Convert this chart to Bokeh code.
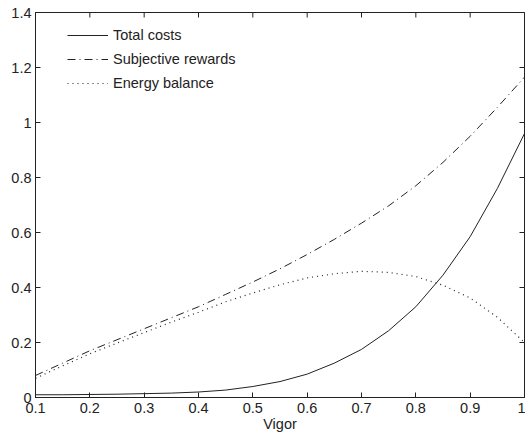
import math
from bokeh.plotting import figure
from bokeh.models import FixedTicker, Range1d, Legend, LegendItem
from bokeh.embed import file_html
from bokeh.resources import INLINE

vigor = [0.10, 0.15, 0.20, 0.25, 0.30, 0.35, 0.40, 0.45, 0.50, 0.55,
         0.60, 0.65, 0.70, 0.75, 0.80, 0.85, 0.90, 0.95, 1.00]
total_costs = [0.010, 0.010, 0.011, 0.012, 0.014, 0.016, 0.020, 0.027, 0.040, 0.058,
               0.085, 0.125, 0.175, 0.243, 0.330, 0.445, 0.585, 0.760, 0.960]
subjective_rewards = [0.080, 0.125, 0.170, 0.210, 0.250, 0.290, 0.330, 0.375, 0.420, 0.468,
                      0.520, 0.575, 0.634, 0.697, 0.770, 0.855, 0.950, 1.055, 1.165]
energy_balance = [0.070, 0.115, 0.159, 0.198, 0.236, 0.274, 0.310, 0.348, 0.380, 0.410,
                  0.435, 0.450, 0.459, 0.455, 0.440, 0.408, 0.362, 0.292, 0.200]

x_ticks = [0.1, 0.2, 0.3, 0.4, 0.5, 0.6, 0.7, 0.8, 0.9, 1.0]
y_ticks = [0, 0.2, 0.4, 0.6, 0.8, 1.0, 1.2, 1.4]
x_label = "Vigor"
series_labels = ["Total costs", "Subjective rewards", "Energy balance"]

FONT = "Liberation Sans"
INK = "#222222"
FS = "14.5px"

p = figure(width=525, height=441, output_backend="svg", toolbar_location=None,
           x_range=Range1d(x_ticks[0], x_ticks[-1]), y_range=Range1d(y_ticks[0], y_ticks[-1]),
           min_border_left=35, min_border_right=1, min_border_top=12, min_border_bottom=44,
           x_axis_label=x_label)
p.background_fill_color = "white"
p.border_fill_color = "white"
p.outline_line_color = INK
p.xgrid.visible = False
p.ygrid.visible = False

def style(ax, ticks):
    ax.ticker = FixedTicker(ticks=ticks)
    ax.minor_tick_line_color = None
    ax.major_tick_in = 5
    ax.major_tick_out = 0
    ax.axis_line_color = INK
    ax.major_tick_line_color = INK
    ax.major_label_text_font = FONT
    ax.major_label_text_font_size = FS
    ax.major_label_text_color = INK
    ax.axis_label_text_font = FONT
    ax.axis_label_text_font_size = FS
    ax.axis_label_text_font_style = "normal"
    ax.axis_label_text_color = INK

style(p.xaxis[0], x_ticks)
p.xaxis[0].major_label_standoff = 5
p.xaxis[0].axis_label_standoff = 0
p.xaxis[0].major_label_overrides = {1.0: "1"}
style(p.yaxis[0], y_ticks)
p.yaxis[0].major_label_standoff = 4
p.yaxis[0].major_label_overrides = {0: "0", 1.0: "1"}

# inward ticks on the top and right edges of the box (clipped to the frame)
p.scatter(x=x_ticks, y=[y_ticks[-1]] * len(x_ticks), marker="dash", size=10,
          angle=math.pi / 2, line_color=INK, line_width=1)
p.scatter(x=[x_ticks[-1]] * len(y_ticks), y=y_ticks, marker="dash", size=10,
          angle=0, line_color=INK, line_width=1)

r1 = p.line(vigor, total_costs, line_color=INK, line_width=1)
r2 = p.line(vigor, subjective_rewards, line_color=INK, line_width=1, line_dash="8 4 1 4")
r3 = p.line(vigor, energy_balance, line_color=INK, line_width=1.2, line_dash="1 4")

legend = Legend(items=[LegendItem(label=series_labels[0], renderers=[r1]),
                       LegendItem(label=series_labels[1], renderers=[r2]),
                       LegendItem(label=series_labels[2], renderers=[r3])],
                location=(32, 304), border_line_color=None, background_fill_alpha=0,
                glyph_width=41, glyph_height=20, label_height=20, spacing=4,
                label_standoff=5, padding=0, margin=0,
                label_text_font=FONT, label_text_font_size=FS, label_text_color=INK)
p.add_layout(legend, "center")

open("out.html", "w").write(file_html(p, INLINE))
